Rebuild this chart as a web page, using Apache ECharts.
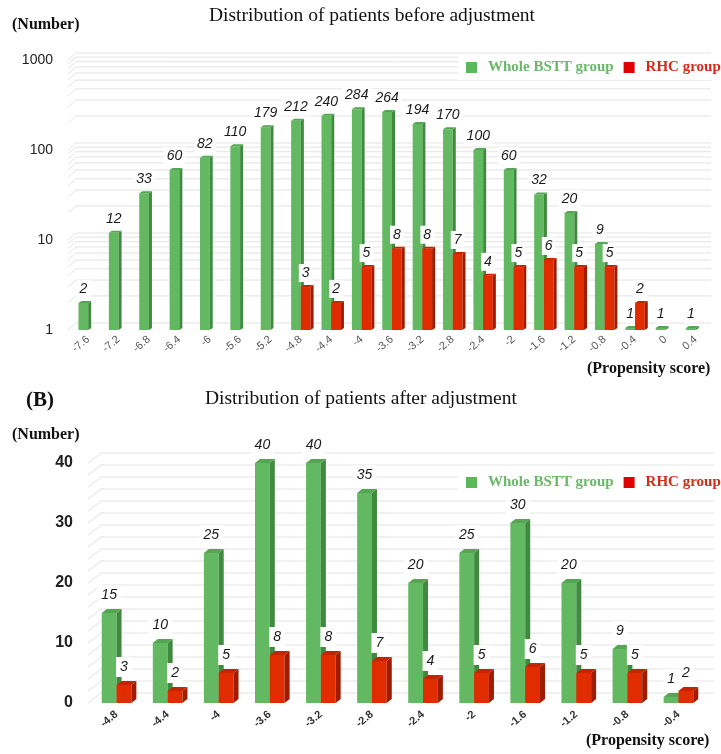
<!DOCTYPE html>
<html>
<head>
<meta charset="utf-8">
<script src="https://cdn.jsdelivr.net/npm/echarts@6/dist/echarts.min.js"></script>
<style>
  html, body { margin: 0; padding: 0; background: #fff; }
  #chart { width: 721px; height: 754px; }
</style>
</head>
<body>
<div id="chart"></div>
<script>
// Propensity score bins and patient counts
const beforeScores = ['-7.6', '-7.2', '-6.8', '-6.4', '-6', '-5.6', '-5.2', '-4.8', '-4.4', '-4', '-3.6',
  '-3.2', '-2.8', '-2.4', '-2', '-1.6', '-1.2', '-0.8', '-0.4', '0', '0.4'];
const beforeWhole = [2, 12, 33, 60, 82, 110, 179, 212, 240, 284, 264, 194, 170, 100, 60, 32, 20, 9, 1, 1, 1];
const beforeRhc = [null, null, null, null, null, null, null, 3, 2, 5, 8, 8, 7, 4, 5, 6, 5, 5, 2, null, null];

const afterScores = ['-4.8', '-4.4', '-4', '-3.6', '-3.2', '-2.8', '-2.4', '-2', '-1.6', '-1.2', '-0.8', '-0.4'];
const afterWhole = [15, 10, 25, 40, 40, 35, 20, 25, 30, 20, 9, 1];
const afterRhc = [3, 2, 5, 8, 8, 7, 4, 5, 6, 5, 5, 2];

// Back-wall grid line levels
const logGridLevels = [1, 2, 3, 4, 5, 6, 7, 8, 9, 10, 20, 30, 40, 50, 60, 70, 80, 90,
  100, 200, 300, 400, 500, 600, 700, 800, 900, 1000];
const linearGridLevels = [0, 2, 4, 6, 8, 10, 12, 14, 16, 18, 20, 22, 24, 26, 28, 30, 32, 34, 36, 38, 40];

const GREEN = { front: '#63b862', side: '#3f8a3e', top: '#54a653' };
const RED = { front: '#e12c00', side: '#a01c00', top: '#c42500' };

function toPoints(values) {
  const out = [];
  values.forEach(function (v, i) { if (v !== null) out.push([i, v]); });
  return out;
}

// Extruded bar: front face, right side face and top face, plus its value label
function bar3D(side, cfg, colors) {
  return function (params, api) {
    const i = api.value(0);
    const v = api.value(1);
    const band = api.size([1, 0])[0];
    const w = band * cfg.ratio;
    const p = api.coord([i, v]);
    const b = api.coord([i, cfg.base]);
    const x0 = side === 'left' ? p[0] - w : p[0];
    const yb = b[1];
    const yt = Math.min(p[1], yb - cfg.minH);
    const d = cfg.depth, e = cfg.rise;
    return {
      type: 'group',
      children: [
        { type: 'rect', shape: { x: x0, y: yt, width: w, height: yb - yt }, style: { fill: colors.front } },
        { type: 'polygon', shape: { points: [[x0 + w, yt], [x0 + w + d, yt - e], [x0 + w + d, yb - e], [x0 + w, yb]] },
          style: { fill: colors.side } },
        { type: 'polygon', shape: { points: [[x0, yt], [x0 + d, yt - e], [x0 + w + d, yt - e], [x0 + w, yt]] },
          style: { fill: colors.top } },
        { type: 'text', x: x0 + w / 2, y: yt - cfg.labelGap,
          style: { text: String(v), fill: '#1a1a1a', font: cfg.labelFont, align: 'center', verticalAlign: 'middle',
                   backgroundColor: '#fff', padding: cfg.labelPad } }
      ]
    };
  };
}

function wallLines(cfg) {
  return function (params, api) {
    const y = api.coord([0, api.value(1)])[1];
    const cs = params.coordSys;
    const x = cs.x + cfg.start;
    return {
      type: 'polyline',
      silent: true,
      shape: { points: [[x, y], [x + cfg.dx, y - cfg.dy], [cs.x + cs.width + cfg.extend, y - cfg.dy]] },
      style: { stroke: '#e3e3e3', lineWidth: 1, fill: null }
    };
  };
}

const topCfg = { ratio: 0.32, base: 1, minH: 2, depth: 3, rise: 2, labelGap: 14,
  labelFont: 'italic 14px "Liberation Sans", Arial, sans-serif', labelPad: [2, 3] };
const botCfg = { ratio: 0.29, base: 0, minH: 2, depth: 5, rise: 4, labelGap: 18,
  labelFont: 'italic 14px "Liberation Sans", Arial, sans-serif', labelPad: [3, 4] };

const serif = '"Liberation Serif", "Times New Roman", serif';
const sans = '"Liberation Sans", Arial, sans-serif';

function legendFor(top) {
  return {
    top: top, left: 458, width: 420, orient: 'horizontal', padding: [5, 8], backgroundColor: '#fff',
    itemWidth: 11, itemHeight: 11, itemGap: 10, icon: 'rect',
    textStyle: { fontFamily: serif, fontWeight: 'bold', fontSize: 15, padding: [0, 0, 0, 6] },
    data: [
      { name: 'Whole BSTT group', itemStyle: { color: '#5cb85c' }, textStyle: { color: '#6bb86a' } },
      { name: 'RHC group', itemStyle: { color: '#e00000' }, textStyle: { color: '#d42a1a' } }
    ]
  };
}

function heading(text, left, top, size, weight) {
  return { text: text, left: left, top: top, padding: 0,
    textStyle: { fontFamily: serif, fontSize: size, fontWeight: weight, color: '#111' } };
}

const chart = echarts.init(document.getElementById('chart'), null, { renderer: 'canvas' });

chart.setOption({
  animation: false,
  backgroundColor: '#fff',
  title: [
    heading('Distribution of patients before adjustment', 209, 6, 19.5, 'normal'),
    heading('(Number)', 12, 17, 16, 'bold'),
    heading('(Propensity score)', 587, 361, 16, 'bold'),
    heading('(B)', 26, 390, 21, 'bold'),
    heading('Distribution of patients after adjustment', 205, 389, 19.5, 'normal'),
    heading('(Number)', 12, 427, 16, 'bold'),
    heading('(Propensity score)', 586, 733, 16, 'bold')
  ],
  legend: [legendFor(55), legendFor(470)],
  grid: [
    { left: 73, right: 10, top: 60, height: 270 },
    { left: 91, right: 17, top: 463, height: 240 }
  ],
  xAxis: [
    { type: 'category', gridIndex: 0, data: beforeScores, boundaryGap: true,
      axisLine: { show: false }, axisTick: { show: false },
      axisLabel: { rotate: 40, margin: 8, fontSize: 11, color: '#555', fontFamily: sans } },
    { type: 'category', gridIndex: 1, data: afterScores, boundaryGap: true,
      axisLine: { show: false }, axisTick: { show: false },
      axisLabel: { rotate: 40, margin: 10, fontSize: 11, color: '#333', fontFamily: sans, fontWeight: 'bold' } }
  ],
  yAxis: [
    { type: 'log', gridIndex: 0, logBase: 10, min: 1, max: 1000,
      axisLine: { show: false }, axisTick: { show: false }, splitLine: { show: false },
      axisLabel: { margin: 20, fontSize: 14, color: '#222', fontFamily: sans,
        formatter: function (v) { return String(Math.round(v)); } } },
    { type: 'value', gridIndex: 1, min: 0, max: 40, interval: 10,
      axisLine: { show: false }, axisTick: { show: false }, splitLine: { show: false },
      axisLabel: { margin: 18, fontSize: 16, fontWeight: 'bold', color: '#222', fontFamily: sans } }
  ],
  series: [
    { type: 'custom', name: 'wall-before', xAxisIndex: 0, yAxisIndex: 0, z: 1, silent: true,
      renderItem: wallLines({ start: -5, dx: 8, dy: 7, extend: 0 }),
      data: logGridLevels.map(function (v) { return [0, v]; }) },
    { type: 'custom', name: 'wall-after', xAxisIndex: 1, yAxisIndex: 1, z: 1, silent: true,
      renderItem: wallLines({ start: -3, dx: 13, dy: 10, extend: 10 }),
      data: linearGridLevels.map(function (v) { return [0, v]; }) },

    { type: 'custom', name: 'Whole BSTT group', xAxisIndex: 0, yAxisIndex: 0, z: 2,
      itemStyle: { color: '#5cb85c' }, renderItem: bar3D('left', topCfg, GREEN),
      data: toPoints(beforeWhole) },
    { type: 'custom', name: 'RHC group', xAxisIndex: 0, yAxisIndex: 0, z: 3,
      itemStyle: { color: '#e00000' }, renderItem: bar3D('right', topCfg, RED),
      data: toPoints(beforeRhc) },

    { type: 'custom', name: 'Whole BSTT group', xAxisIndex: 1, yAxisIndex: 1, z: 2,
      itemStyle: { color: '#5cb85c' }, renderItem: bar3D('left', botCfg, GREEN),
      data: toPoints(afterWhole) },
    { type: 'custom', name: 'RHC group', xAxisIndex: 1, yAxisIndex: 1, z: 3,
      itemStyle: { color: '#e00000' }, renderItem: bar3D('right', botCfg, RED),
      data: toPoints(afterRhc) }
  ]
});
</script>
</body>
</html>
